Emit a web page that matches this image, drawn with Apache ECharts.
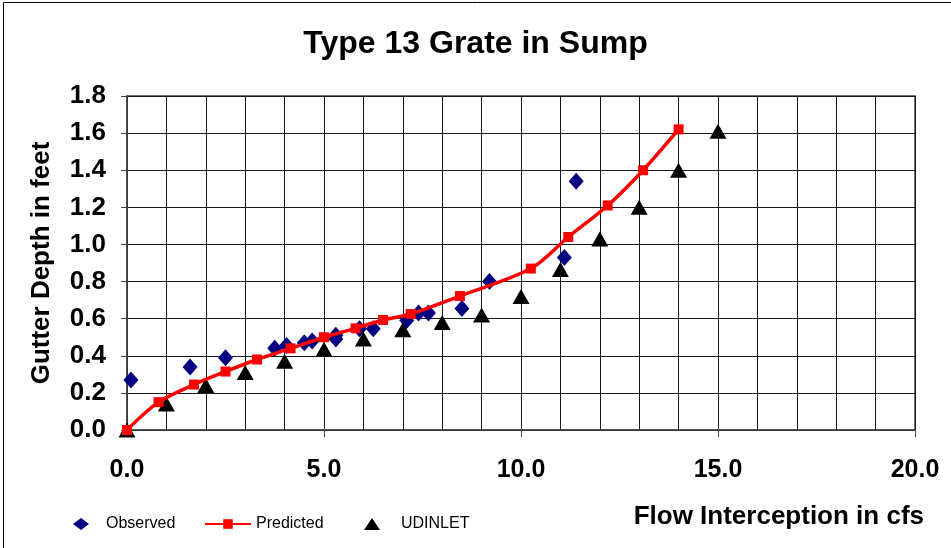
<!DOCTYPE html>
<html>
<head>
<meta charset="utf-8">
<title>Type 13 Grate in Sump</title>
<script src="https://cdn.jsdelivr.net/npm/echarts@6/dist/echarts.min.js"></script>
<style>
  html, body { margin: 0; padding: 0; background: #fff; }
  #chart_01 { width: 951px; height: 548px; }
</style>
</head>
<body>
<div id="chart_01"></div>
<script>
// values
var observedX = [0.1, 1.6, 2.5, 3.75, 4.05, 4.5, 4.7, 5.3, 5.3, 5.9, 6.25, 7.1, 7.4, 7.65, 8.5, 9.2, 11.1, 11.4];
var observedY = [0.27, 0.34, 0.39, 0.44, 0.455, 0.47, 0.48, 0.51, 0.49, 0.545, 0.545, 0.59, 0.63, 0.63, 0.655, 0.80, 0.93, 1.34];

var predictedX = [0, 0.8, 1.7, 2.5, 3.3, 4.15, 5.0, 5.8, 6.5, 7.2, 8.45, 10.25, 11.2, 12.2, 13.1, 14.0];
var predictedY = [0, 0.15, 0.245, 0.315, 0.38, 0.44, 0.50, 0.548, 0.593, 0.625, 0.722, 0.87, 1.04, 1.21, 1.40, 1.62];

var udinletX = [0, 1, 2, 3, 4, 5, 6, 7, 8, 9, 10, 11, 12, 13, 14, 15];
var udinletY = [0, 0.14, 0.24, 0.31, 0.37, 0.435, 0.49, 0.54, 0.58, 0.62, 0.72, 0.865, 1.03, 1.20, 1.40, 1.61];

;(function(window) {

    initChart();

    function pairs(xs, ys) {
        var out = [];
        for (var i = 0; i < xs.length; i++) {
            out.push([xs[i], ys[i]]);
        }
        return out;
    }

    function initChart() {
        var myChart_01 = echarts.init(document.getElementById('chart_01'), null, { renderer: 'canvas' });
        var font = 'Liberation Sans, Arial, sans-serif';
        var gridColor = '#1a1a1a';
        var legendText = { fontFamily: font, fontSize: 16, color: '#000' };

        var options = {
            backgroundColor: '#fff',
            animation: false,
            title: [{
                text: 'Type 13 Grate in Sump',
                left: 'center',
                top: 23,
                textStyle: { fontFamily: font, fontWeight: 'bold', fontSize: 32, color: '#000' }
            }, {
                text: 'Flow Interception in cfs',
                right: 22,
                top: 499,
                textStyle: { fontFamily: font, fontWeight: 'bold', fontSize: 26, color: '#000' }
            }],
            legend: [{
                data: ['Observed'],
                left: 68, top: 511,
                itemWidth: 16, itemHeight: 12,
                textStyle: Object.assign({ padding: [0, 0, 0, 12] }, legendText)
            }, {
                data: ['Predicted'],
                left: 199, top: 511,
                itemWidth: 46, itemHeight: 12,
                textStyle: legendText
            }, {
                data: ['UDINLET'],
                left: 359, top: 511,
                itemWidth: 16, itemHeight: 12,
                textStyle: Object.assign({ padding: [0, 0, 0, 16] }, legendText)
            }],
            grid: {
                left: 127, right: 36, top: 96, bottom: 118,
                show: true, borderColor: '#444', borderWidth: 1.5
            },
            xAxis: {
                type: 'value',
                min: 0, max: 20, interval: 5,
                axisLine: { show: true, onZero: false, lineStyle: { color: '#444', width: 1.5 } },
                axisTick: { show: true, length: 7, lineStyle: { color: '#444' } },
                minorTick: { show: true, splitNumber: 5, length: 0 },
                splitLine: { show: true, lineStyle: { color: gridColor, width: 1 } },
                minorSplitLine: { show: true, lineStyle: { color: gridColor, width: 1 } },
                axisLabel: {
                    margin: 28,
                    fontFamily: font, fontWeight: 'bold', fontSize: 25, color: '#000',
                    formatter: function(v) { return v.toFixed(1); }
                }
            },
            yAxis: {
                type: 'value',
                min: 0, max: 1.8, interval: 0.2,
                name: 'Gutter Depth in feet',
                nameLocation: 'middle',
                nameGap: 72,
                nameTextStyle: { fontFamily: font, fontWeight: 'bold', fontSize: 26, color: '#000' },
                axisLine: { show: true, lineStyle: { color: '#444', width: 1.5 } },
                axisTick: { show: true, length: 6, lineStyle: { color: '#444' } },
                splitLine: { show: true, lineStyle: { color: gridColor, width: 1 } },
                axisLabel: {
                    margin: 21,
                    fontFamily: font, fontWeight: 'bold', fontSize: 26, color: '#000',
                    formatter: function(v) { return v.toFixed(1); }
                }
            },
            graphic: [{
                type: 'rect',
                shape: { x: 3.5, y: 2.5, width: 1000, height: 700 },
                style: { fill: null, stroke: '#000', lineWidth: 1 },
                silent: true
            }],
            series: [{
                name: 'Observed',
                type: 'scatter',
                symbol: 'diamond',
                symbolSize: [15, 17],
                itemStyle: { color: '#000080', opacity: 1 },
                data: pairs(observedX, observedY)
            }, {
                name: 'Predicted',
                type: 'line',
                smooth: 0.3,
                symbol: 'rect',
                symbolSize: 10,
                showAllSymbol: true,
                lineStyle: { color: '#ff0000', width: 3.5 },
                itemStyle: { color: '#ff0000' },
                data: pairs(predictedX, predictedY)
            }, {
                name: 'UDINLET',
                type: 'scatter',
                symbol: 'triangle',
                symbolSize: [17, 15],
                itemStyle: { color: '#000', opacity: 1 },
                data: pairs(udinletX, udinletY)
            }]
        };

        myChart_01.setOption(options);
    }

}(window));
</script>
</body>
</html>
